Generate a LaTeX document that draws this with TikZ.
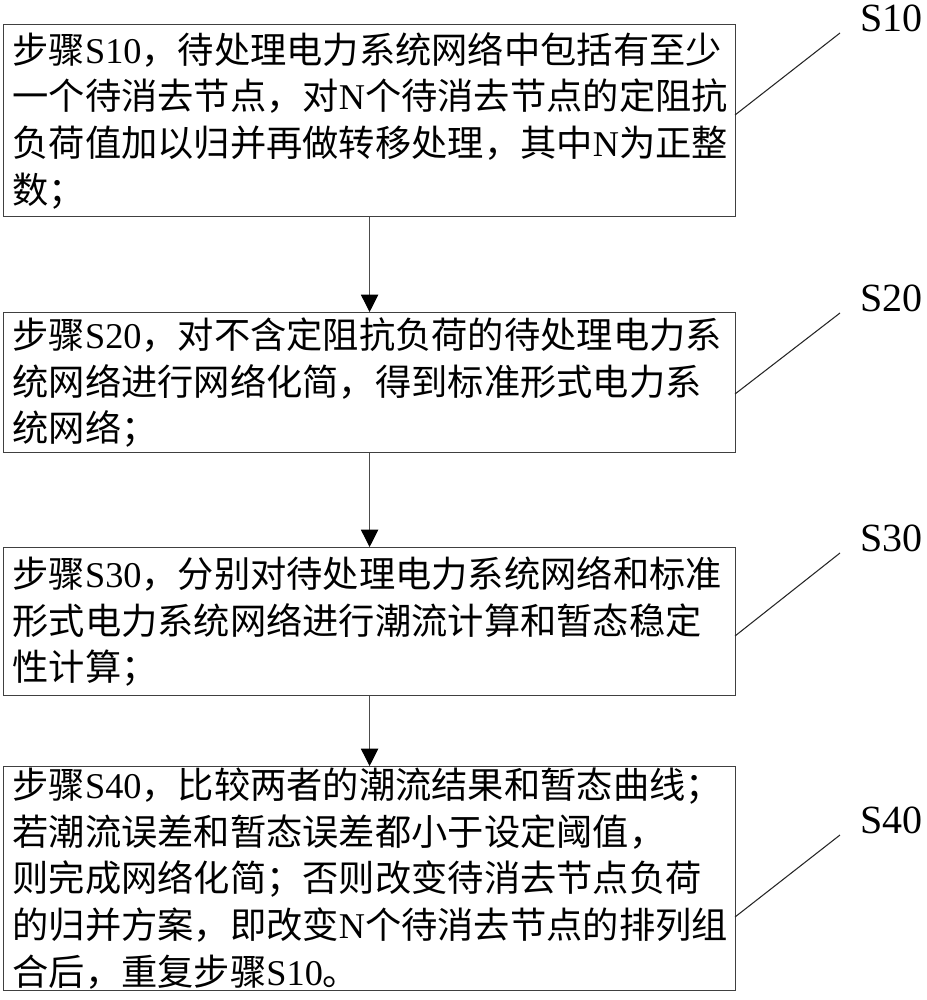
\documentclass[tikz,border=0pt]{standalone}
\usepackage{fontspec}
\setmainfont{Liberation Serif}
\newfontfamily\cjk{Noto Sans CJK SC}
\usetikzlibrary{positioning}
\usetikzlibrary{arrows.meta}

\tikzset{
  stepbox/.style={draw=black!75, line width=0.9pt, anchor=north west,
    minimum width=549pt, text width=535.5pt, inner xsep=6.75pt, inner ysep=0pt,
    align=left, font=\cjk\fontsize{27.2}{35}\selectfont},
  steptag/.style={anchor=west, inner sep=0pt, font=\fontsize{30}{30}\selectfont},
  flow/.style={draw=black!70, line width=0.8pt,
    -{Triangle[width=13pt,length=13pt,black]}},
  leader/.style={draw=black!85, line width=0.8pt}
}

\begin{document}
\begin{tikzpicture}[x=0.75pt,y=-0.75pt]
\useasboundingbox (0,0) rectangle (927,1000);

% Step boxes
\node[stepbox, minimum height=144pt] (s10) at (3,24)
  {步骤\textrm{S10}，待处理电力系统网络中包括有至少\\
   一个待消去节点，对\textrm{N}个待消去节点的定阻抗\\
   负荷值加以归并再做转移处理，其中\textrm{N}为正整\\
   数；};
\node[stepbox, minimum height=105pt] (s20) at (3,312)
  {步骤\textrm{S20}，对不含定阻抗负荷的待处理电力系\\
   统网络进行网络化简，得到标准形式电力系\\
   统网络；};
\node[stepbox, minimum height=111pt] (s30) at (3,547)
  {步骤\textrm{S30}，分别对待处理电力系统网络和标准\\
   形式电力系统网络进行潮流计算和暂态稳定\\
   性计算；};
\node[stepbox, minimum height=168pt] (s40) at (3,766)
  {步骤\textrm{S40}，比较两者的潮流结果和暂态曲线；\\
   若潮流误差和暂态误差都小于设定阈值，\\
   则完成网络化简；否则改变待消去节点负荷\\
   的归并方案，即改变\textrm{N}个待消去节点的排列组\\
   合后，重复步骤\textrm{S10}。};

% Flow arrows
\foreach \a/\b in {s10/s20, s20/s30, s30/s40}{
  \draw[flow] (\a.south) -- (\b.north);
}

% Step tags with leader lines
\foreach \n/\t/\y/\e in {s10/S10/18/115, s20/S20/298/394, s30/S30/538/636, s40/S40/820/917}{
  \node[steptag] (tag\n) at (860,\y) {\t};
  \coordinate (foot\n) at (735,\e);
  \coordinate (head\n) at (840,{\y+15});
  \draw[leader] (foot\n) -- (head\n);
}
\end{tikzpicture}
\end{document}
